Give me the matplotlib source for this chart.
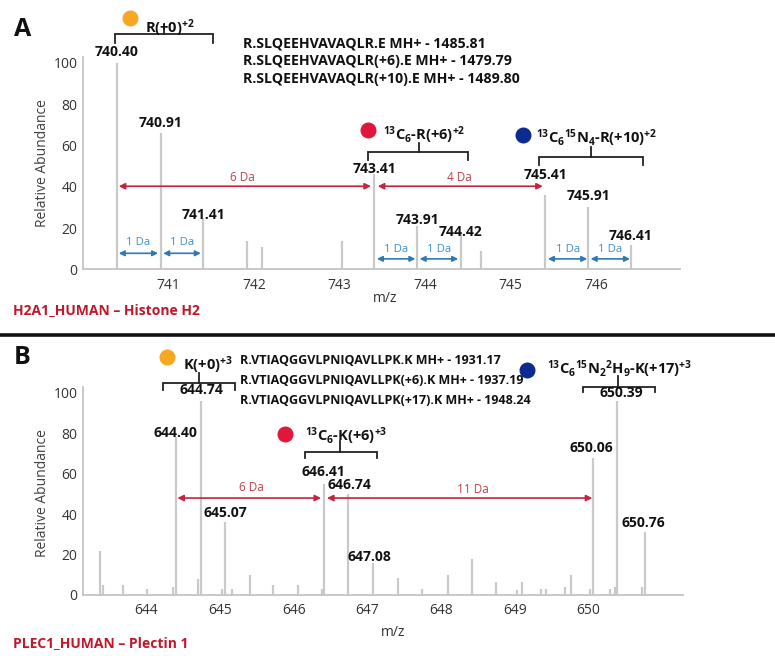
import matplotlib
matplotlib.use("Agg")
import matplotlib.pyplot as plt

plt.rcParams['font.family'] = ['Open Sans', 'DejaVu Sans']
plt.rcParams['mathtext.fontset'] = 'custom'
plt.rcParams['mathtext.rm'] = 'Open Sans'
plt.rcParams['mathtext.bf'] = 'Open Sans:bold'
plt.rcParams['mathtext.it'] = 'Open Sans:italic'

# ---------------- data: panel A ----------------
a_mz = [740.40, 740.91, 741.41, 741.92, 742.10, 743.03, 743.41, 743.91,
        744.42, 744.66, 745.41, 745.91, 746.41]
a_int = [100, 66, 25, 14, 11, 14, 46, 21, 18, 9, 36, 30, 12]
a_labeled = [740.40, 740.91, 741.41, 743.41, 743.91, 744.42, 745.41, 745.91, 746.41]
a_label_y = [105.3, 70.9, 26.4, 48.5, 23.9, 18.1, 45.7, 35.6, 16.0]
a_xticks = [741, 742, 743, 744, 745, 746]
a_seq = ["R.SLQEEHVAVAQLR.E MH+ - 1485.81",
         "R.SLQEEHVAVAQLR(+6).E MH+ - 1479.79",
         "R.SLQEEHVAVAQLR(+10).E MH+ - 1489.80"]

# ---------------- data: panel B ----------------
b_mz = [643.37, 643.41, 643.68, 644.01, 644.36, 644.40, 644.70, 644.74, 645.02,
        645.07, 645.16, 645.40, 645.72, 646.06, 646.38, 646.41, 646.74, 647.08,
        647.41, 647.74, 648.09, 648.42, 648.74, 649.03, 649.09, 649.36, 649.42,
        649.68, 649.76, 650.02, 650.06, 650.29, 650.36, 650.39, 650.72, 650.76]
b_int = [22, 5, 5, 3, 4, 78, 8, 96, 3, 36, 3, 10, 5, 5, 3, 55, 50, 16, 8.5, 3,
         10, 18, 6.5, 2.5, 6.5, 3, 3, 4, 10, 3, 68, 3, 4, 96, 4, 31]
b_labeled = [644.40, 644.74, 645.07, 646.41, 646.74, 647.08, 650.06, 650.39, 650.76]
b_label_x = [644.39, 644.75, 645.07, 646.40, 646.76, 647.03, 650.04, 650.44, 650.74]
b_label_y = [80.2, 101.5, 40.6, 60.9, 54.5, 18.8, 72.8, 100.0, 35.6]
b_xticks = [644, 645, 646, 647, 648, 649, 650]
b_seq = ["R.VTIAQGGVLPNIQAVLLPK.K MH+ - 1931.17",
         "R.VTIAQGGVLPNIQAVLLPK(+6).K MH+ - 1937.19",
         "R.VTIAQGGVLPNIQAVLLPK(+17).K MH+ - 1948.24"]

W, H = 775, 656
PEAK = '#c9c9c9'
SPINE = '#c4c4c4'
RED = '#c8223f'
RED_T = '#c0424a'
BLUE = '#2f78b8'
BLUE_T = '#3d8fcf'
ORANGE_C = '#f6a823'
RED_C = '#e0163a'
BLUE_C = '#0c2a90'

fig = plt.figure(figsize=(W / 100, H / 100), dpi=100)


def fx(px):
    return px / W


def fy(py):
    return 1 - py / H


def style_axes(ax, xticks):
    for s in ['top', 'right']:
        ax.spines[s].set_visible(False)
    for s in ['left', 'bottom']:
        ax.spines[s].set_color(SPINE)
        ax.spines[s].set_linewidth(1.3)
    ax.set_ylim(0, 103)
    ax.set_yticks([0, 20, 40, 60, 80, 100])
    ax.set_xticks(xticks)
    ax.tick_params(axis='both', length=0, labelsize=10, colors='#333333')
    ax.tick_params(axis='x', pad=6)
    ax.tick_params(axis='y', pad=4)


def bracket(ax, x0, x1, y, yend, xc, ytop):
    ax.plot([x0, x0, x1, x1], [yend, y, y, yend], color='#222222', lw=1.3,
            clip_on=False, solid_joinstyle='miter')
    ax.plot([xc, xc], [y, ytop], color='#222222', lw=1.3, clip_on=False)


def arrow(ax, x0, x1, y, color, ms=9):
    ax.annotate('', xy=(x1, y), xytext=(x0, y), annotation_clip=False,
                arrowprops=dict(arrowstyle='<|-|>', color=color, lw=1.2,
                                mutation_scale=ms, shrinkA=0, shrinkB=0))


def circle(ax, x, y, color):
    ax.plot([x], [y], 'o', ms=10.5, color=color, mec=color, clip_on=False)


# ======================= Panel A =======================
axA = fig.add_axes([fx(83), fy(269.4), fx(680) - fx(83), 103 * 2.064 / H])
axA.vlines(a_mz, 0, a_int, color=PEAK, lw=1.6)
axA.set_xlim(740.002, 746.985)
style_axes(axA, a_xticks)
for x, y in zip(a_labeled, a_label_y):
    axA.text(x, y, f"{x:.2f}", ha='center', va='center', fontsize=10,
             fontweight='bold', color='#111111', clip_on=False)

# red arrows (Da differences)
arrow(axA, 740.42, 743.37, 40.3, RED)
arrow(axA, 743.45, 745.38, 40.3, RED)
axA.text(741.87, 44.6, "6 Da", ha='center', va='center', fontsize=8.5, color=RED_T)
axA.text(744.40, 44.6, "4 Da", ha='center', va='center', fontsize=8.5, color=RED_T)

# blue 1 Da arrows
for (x0, x1), ya, yt in [((740.42, 740.88), 7.8, 12.9), ((740.94, 741.38), 7.8, 12.9),
                         ((743.44, 743.89), 5.1, 9.4), ((743.94, 744.39), 5.1, 9.4),
                         ((745.44, 745.90), 5.1, 9.4), ((745.94, 746.40), 5.1, 9.4)]:
    arrow(axA, x0, x1, ya, BLUE, ms=8)
    axA.text((x0 + x1) / 2, yt, "1 Da", ha='center', va='center',
             fontsize=8.2, color=BLUE_T)

# labels with brackets
circle(axA, 740.55, 121.8, ORANGE_C)
axA.text(741.02, 114.7, r"R(+0)$^{\mathbf{+2}}$", ha='center', va='baseline',
         fontsize=10.5, fontweight='bold', color='#111111')
bracket(axA, 740.38, 741.52, 114.0, 109.7, 740.95, 118.5)

circle(axA, 743.33, 67.5, RED_C)
axA.text(743.99, 62.6, r"$^{\mathbf{13}}$C$_{\mathbf{6}}$-R(+6)$^{\mathbf{+2}}$",
         ha='center', va='baseline', fontsize=10.5, fontweight='bold', color='#111111')
bracket(axA, 743.34, 744.50, 56.9, 53.0, 743.93, 61.2)

circle(axA, 745.15, 65.1, BLUE_C)
axA.text(746.01, 61.2,
         r"$^{\mathbf{13}}$C$_{\mathbf{6}}$$^{\mathbf{15}}$N$_{\mathbf{4}}$-R(+10)$^{\mathbf{+2}}$",
         ha='center', va='baseline', fontsize=10.5, fontweight='bold', color='#111111')
bracket(axA, 745.33, 746.55, 54.4, 50.6, 745.94, 59.3)

for i, s in enumerate(a_seq):
    fig.text(fx(243), fy(43 + i * 18.2), s, ha='left', va='center', fontsize=10.2,
             fontweight='bold', color='#111111')

fig.text(fx(42), fy(163), "Relative Abundance", rotation=90, ha='center',
         va='center', fontsize=10, color='#404040')
fig.text(fx(385), fy(298), "m/z", ha='center', va='center', fontsize=10, color='#333333')
fig.text(fx(13), fy(310), "H2A1_HUMAN \u2013 Histone H2", ha='left', va='center',
         fontsize=10, fontweight='bold', color='#c0182a')
fig.text(fx(14), fy(30), "A", ha='left', va='center', fontsize=18,
         fontweight='bold', color='#111111')

# separator
fig.add_artist(plt.Line2D([0, 1], [fy(335), fy(335)], color='#111111', lw=2.6))

# ======================= Panel B =======================
axB = fig.add_axes([fx(83), fy(595), fx(683) - fx(83), 103 * 2.02 / H])
axB.vlines(b_mz, 0, b_int, color=PEAK, lw=1.6)
axB.set_xlim(643.14, 651.28)
style_axes(axB, b_xticks)
for (m, x), y in zip(zip(b_labeled, b_label_x), b_label_y):
    axB.text(x, y, f"{m:.2f}", ha='center', va='center', fontsize=10,
             fontweight='bold', color='#111111', clip_on=False)

arrow(axB, 644.42, 646.37, 48.0, RED)
arrow(axB, 646.45, 650.05, 48.0, RED)
axB.text(645.42, 53.0, "6 Da", ha='center', va='center', fontsize=8.5, color=RED_T)
axB.text(648.43, 52.0, "11 Da", ha='center', va='center', fontsize=8.5, color=RED_T)

circle(axB, 644.28, 117.8, ORANGE_C)
axB.text(644.83, 111.4, r"K(+0)$^{\mathbf{+3}}$", ha='center', va='baseline',
         fontsize=10.5, fontweight='bold', color='#111111')
bracket(axB, 644.22, 645.20, 104.9, 101.5, 644.71, 110.0)

circle(axB, 645.88, 79.7, RED_C)
axB.text(646.71, 76.2, r"$^{\mathbf{13}}$C$_{\mathbf{6}}$-K(+6)$^{\mathbf{+3}}$",
         ha='center', va='baseline', fontsize=10.5, fontweight='bold', color='#111111')
bracket(axB, 646.15, 647.13, 70.8, 67.8, 646.62, 76.2)

circle(axB, 649.16, 111.4, BLUE_C)
axB.text(650.42, 109.4,
         r"$^{\mathbf{13}}$C$_{\mathbf{6}}$$^{\mathbf{15}}$N$_{\mathbf{2}}$$^{\mathbf{2}}$H$_{\mathbf{9}}$-K(+17)$^{\mathbf{+3}}$",
         ha='center', va='baseline', fontsize=10.5, fontweight='bold', color='#111111')
bracket(axB, 649.92, 650.90, 103.0, 100.5, 650.40, 108.5)

for i, s in enumerate(b_seq):
    fig.text(fx(240), fy(361 + i * 20), s, ha='left', va='center', fontsize=9,
             fontweight='bold', color='#111111')

fig.text(fx(42), fy(493), "Relative Abundance", rotation=90, ha='center',
         va='center', fontsize=10, color='#404040')
fig.text(fx(393), fy(633), "m/z", ha='center', va='center', fontsize=10, color='#333333')
fig.text(fx(13), fy(643), "PLEC1_HUMAN \u2013 Plectin 1", ha='left', va='center',
         fontsize=10, fontweight='bold', color='#c0182a')
fig.text(fx(14), fy(358), "B", ha='left', va='center', fontsize=18,
         fontweight='bold', color='#111111')

fig.savefig("out.png", dpi=100, facecolor='white')
